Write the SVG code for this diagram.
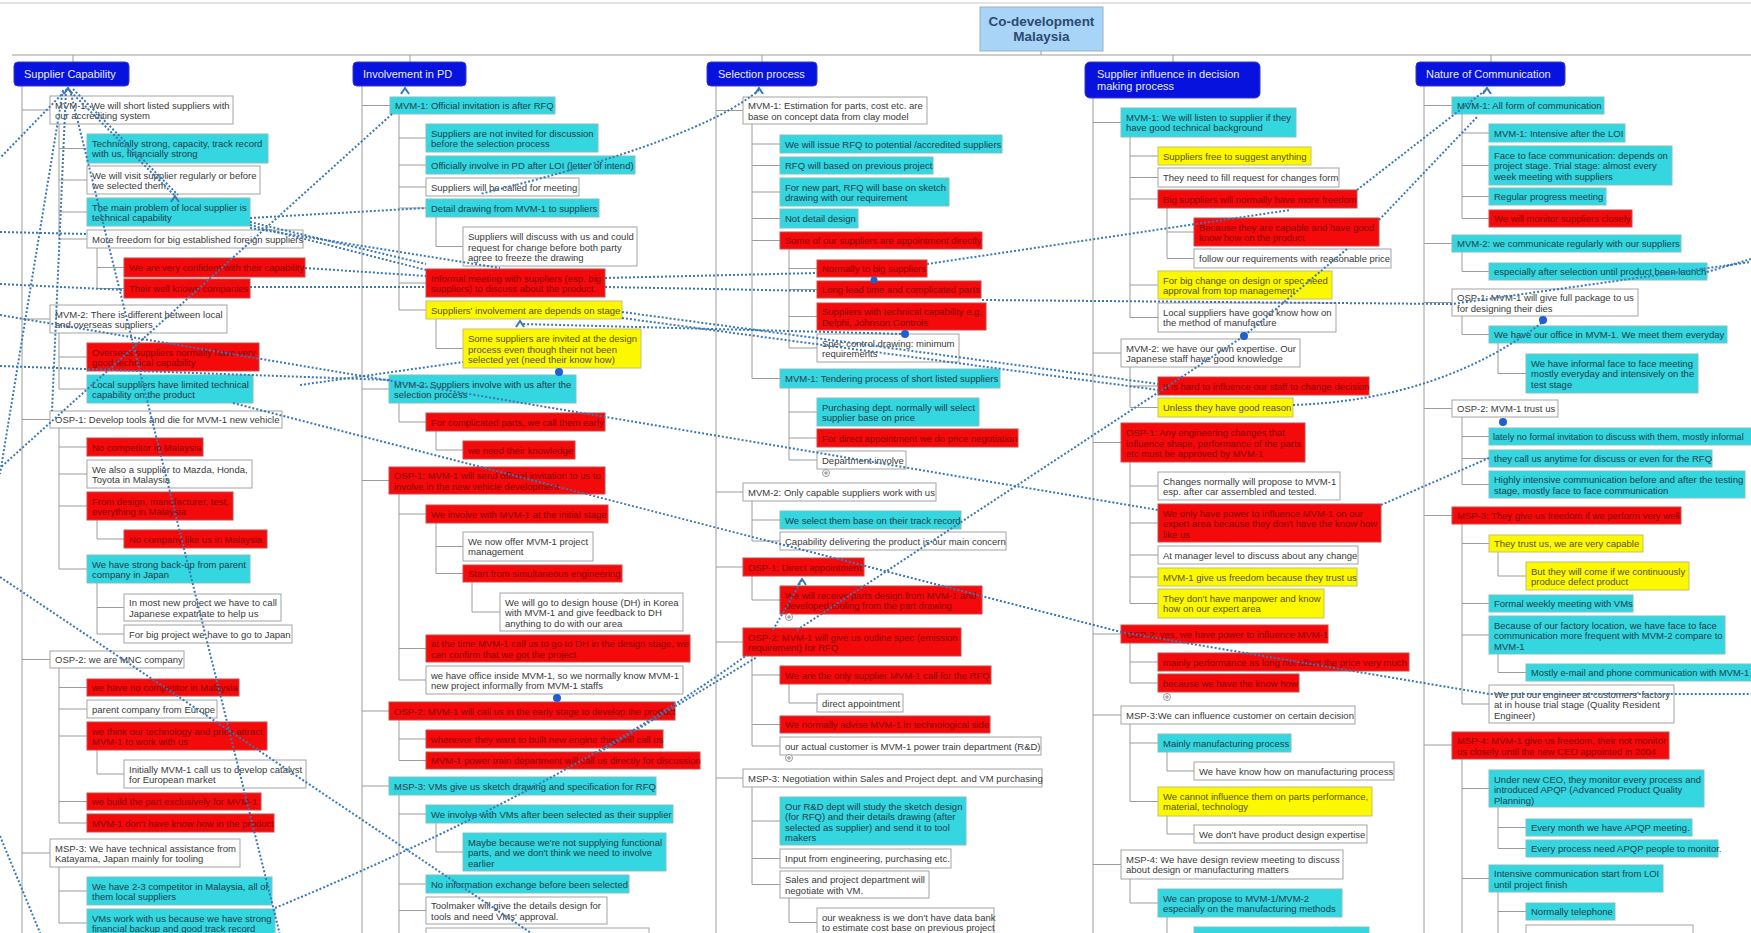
<svg xmlns="http://www.w3.org/2000/svg" width="1751" height="933" viewBox="0 0 1751 933">
<style>
text{font-family:"Liberation Sans",Arial,sans-serif;font-size:9.5px}
.w rect{fill:#fff;stroke:#a3a3a3}
.w text{fill:#3a3a3a}
.c rect{fill:#34d6df;stroke:#82bfc4}
.c text{fill:#1e3e4c}
.r rect{fill:#f40a0a;stroke:#c84a4a}
.r text{fill:#8a0505}
.y rect{fill:#fbf800;stroke:#c8c070}
.y text{fill:#5a5220}
.hd rect{fill:#0712df;stroke:#3a3ac0}
.hd text{fill:#e6ecff;font-size:11px}
.tree{stroke:#9c9c9c;stroke-width:1;fill:none}
.rel{stroke:#3b78b4;stroke-width:2;stroke-dasharray:2 2;fill:none}
.arw{stroke:#3b78b4;stroke-width:2;fill:none}
.dot{fill:#1f5fd0}
.exp circle{fill:#fff;stroke:#999}
.exp path{stroke:#888;stroke-width:1}
</style>
<rect width="1751" height="933" fill="#fff"/>
<path d="M0,3H1751" stroke="#c8c8c8" stroke-width="1"/>

<!-- tree branches -->
<g id="tree">
<path class="tree" d="M12,55H1751 M1041,51V55 M73,55V62 M410,55V62 M762,55V62 M1173,55V62 M1491,55V62"/>
<path class="tree" d="M22,86V933 M22,110H50 M22,319H50 M22,419.5H50 M22,659.5H50 M22,853H50 M59,124V239 M59,148.5H87 M59,180H87 M59,212H87 M59,239H87 M97,248V288.5 M97,267.5H124 M97,288.5H124 M59,333V389 M59,357H87 M59,389H87 M59,428V569 M59,447H87 M59,474H87 M59,506H87 M59,569H87 M97,520V539 M97,539H124 M97,583V634 M97,607.5H124 M97,634H124 M59,668V823 M59,687.5H87 M59,709H87 M59,736H87 M59,801.5H87 M59,823H87 M97,750V774 M97,774H124 M59,867V923 M59,891H87 M59,923H87"/>
<path class="tree" d="M362,86V933 M362,105.5H390 M362,389H389 M362,480.5H389 M362,711H389 M362,786H389 M399,114V310 M399,138H426 M399,165H426 M399,187H426 M399,208H426 M399,283H426 M399,310H426 M436,217V246.5 M436,246.5H463 M436,319V348.5 M436,348.5H463 M399,403V422 M399,422H426 M436,431V450 M436,450H463 M399,494V680 M399,514H426 M399,648.5H426 M399,680H426 M436,523V573.5 M436,546.5H463 M436,573.5H463 M472,582V612 M472,612H500 M399,720V760.5 M399,739H426 M399,760.5H426 M399,795V933 M399,814H426 M399,884H426 M399,910.5H426 M436,823V852 M436,852H463"/>
<path class="tree" d="M716,86V933 M716,110.5H743 M716,492H743 M716,567H743 M716,642H743 M716,778H743 M752,124V378.5 M752,144H780 M752,165.5H780 M752,192H780 M752,218.5H780 M752,240.5H780 M752,378.5H780 M789,249V348 M789,268.5H817 M789,289.5H817 M789,316.5H817 M789,348H817 M789,388V460 M789,412H817 M789,438H817 M789,460H817 M752,501V541 M752,520H780 M752,541H780 M752,576V600 M752,600H780 M752,656V746 M752,675H780 M752,724.5H780 M752,746H780 M789,684V703 M789,703H817 M752,787V884.5 M752,821H780 M752,858.5H780 M752,884.5H780 M789,898V922.5 M789,922.5H817"/>
<path class="tree" d="M1093,98V933 M1093,122.5H1121 M1093,353H1121 M1093,442.5H1121 M1093,634H1121 M1093,715H1121 M1093,864.5H1121 M1130,137V317.5 M1130,156H1158 M1130,177.5H1158 M1130,199H1158 M1130,285H1158 M1130,317.5H1158 M1167,208V258.5 M1167,232H1194 M1167,258.5H1194 M1130,367V407.5 M1130,386H1158 M1130,407.5H1158 M1130,462V603.5 M1130,486H1158 M1130,523H1158 M1130,555H1158 M1130,577H1158 M1130,603.5H1158 M1130,643V683 M1130,662H1158 M1130,683H1158 M1130,724V801.5 M1130,743H1158 M1130,801.5H1158 M1167,752V771 M1167,771H1194 M1167,816V834 M1167,834H1194 M1130,879V903 M1130,903H1158 M1167,917V933"/>
<path class="tree" d="M1424,86V933 M1424,105.5H1452 M1424,243.5H1452 M1424,302.5H1452 M1424,408.5H1452 M1424,515.5H1452 M1424,745H1452 M1462,114V218.5 M1462,133H1489 M1462,165.5H1489 M1462,196.5H1489 M1462,218.5H1489 M1462,252V271.5 M1462,271.5H1489 M1462,316V334.5 M1462,334.5H1489 M1498,343V373.5 M1498,373.5H1526 M1462,417V484.5 M1462,436.5H1489 M1462,458.5H1489 M1462,484.5H1489 M1462,524V704 M1462,543.5H1489 M1462,603.5H1489 M1462,635H1489 M1462,704H1489 M1498,552V576 M1498,576H1526 M1498,654V672.5 M1498,672.5H1526 M1462,759V933 M1462,788.5H1489 M1462,878.5H1489 M1498,807V848.5 M1498,827.5H1526 M1498,848.5H1526 M1498,892V933 M1498,911.5H1526"/>
</g>

<!-- root -->
<g id="root">
<rect x="980" y="7" width="123" height="44" fill="#a8d4f7" stroke="#9ab0c0"/>
<text x="1041.5" y="26" text-anchor="middle" style="font-size:13.5px;font-weight:bold;fill:#2c4a6e">Co-development</text>
<text x="1041.5" y="41" text-anchor="middle" style="font-size:13.5px;font-weight:bold;fill:#2c4a6e">Malaysia</text>
</g>

<!-- column headers -->
<g id="h1" class="hd"><rect x="14" y="62" width="115" height="24" rx="4"/><text x="24" y="78">Supplier Capability</text></g>
<g id="h2" class="hd"><rect x="353" y="62" width="113" height="24" rx="4"/><text x="363" y="78">Involvement in PD</text></g>
<g id="h3" class="hd"><rect x="707" y="62" width="110" height="24" rx="4"/><text x="718" y="78">Selection process</text></g>
<g id="h4" class="hd"><rect x="1085" y="62" width="175" height="36" rx="5"/><text x="1097" y="77.5">Supplier influence in decision</text><text x="1097" y="90">making process</text></g>
<g id="h5" class="hd"><rect x="1416" y="62" width="149" height="24" rx="4"/><text x="1426" y="78">Nature of Communication</text></g>

<!-- column 1 -->
<g id="n1-1" class="w"><rect x="50" y="96" width="183" height="28"/><text x="55" y="108.6">MVM-1: We will short listed suppliers with<tspan x="55" dy="10.7">our accrediting system</tspan></text></g>
<g id="n1-1a" class="c"><rect x="87" y="134" width="181" height="29"/><text x="92" y="146.6">Technically strong, capacity, track record<tspan x="92" dy="10.7">with us, financially strong</tspan></text></g>
<g id="n1-1b" class="w"><rect x="87" y="166" width="173" height="28"/><text x="92" y="178.6">We will visit supplier regularly or before<tspan x="92" dy="10.7">we selected them</tspan></text></g>
<g id="n1-1c" class="c"><rect x="87" y="198" width="163" height="28"/><text x="92" y="210.6">The main problem of local supplier is<tspan x="92" dy="10.7">technical capability</tspan></text></g>
<g id="n1-1d" class="w"><rect x="87" y="230" width="216" height="18"/><text x="92" y="242.5">More freedom for big established foreign suppliers</text></g>
<g id="n1-1d1" class="r"><rect x="124" y="258" width="181" height="19"/><text x="129" y="270.8">We are very confident with their capability</text></g>
<g id="n1-1d2" class="r"><rect x="124" y="279" width="126" height="19"/><text x="129" y="291.8">Their well known companies</text></g>
<g id="n1-2" class="w"><rect x="50" y="305" width="177" height="28"/><text x="55" y="317.6">MVM-2: There is different between local<tspan x="55" dy="10.7">and overseas suppliers</tspan></text></g>
<g id="n1-2a" class="r"><rect x="87" y="343" width="172" height="28"/><text x="92" y="355.6">Overseas suppliers normally have very<tspan x="92" dy="10.7">good technical capability</tspan></text></g>
<g id="n1-2b" class="c"><rect x="87" y="375" width="166" height="28"/><text x="92" y="387.6">Local suppliers have limited technical<tspan x="92" dy="10.7">capability on the product</tspan></text></g>
<g id="n1-3" class="w"><rect x="50" y="411" width="232" height="17"/><text x="55" y="423">OSP-1: Develop tools and die for MVM-1 new vehicle</text></g>
<g id="n1-3a" class="r"><rect x="87" y="438" width="116" height="18"/><text x="92" y="450.5">No competitor in Malaysia</text></g>
<g id="n1-3b" class="w"><rect x="87" y="460" width="165" height="28"/><text x="92" y="472.6">We also a supplier to Mazda, Honda,<tspan x="92" dy="10.7">Toyota in Malaysia</tspan></text></g>
<g id="n1-3c" class="r"><rect x="87" y="492" width="146" height="28"/><text x="92" y="504.6">From design, manufacturer, test,<tspan x="92" dy="10.7">everything in Malaysia</tspan></text></g>
<g id="n1-3c1" class="r"><rect x="124" y="530" width="143" height="18"/><text x="129" y="542.5">No company like us in Malaysia</text></g>
<g id="n1-3d" class="c"><rect x="87" y="555" width="163" height="28"/><text x="92" y="567.6">We have strong back-up from parent<tspan x="92" dy="10.7">company in Japan</tspan></text></g>
<g id="n1-3d1" class="w"><rect x="124" y="594" width="157" height="27"/><text x="129" y="606.3">In most new project we have to call<tspan x="129" dy="10.7">Japanese expatriate to help us</tspan></text></g>
<g id="n1-3d2" class="w"><rect x="124" y="625" width="168" height="18"/><text x="129" y="637.5">For big project we have to go to Japan</text></g>
<g id="n1-4" class="w"><rect x="50" y="651" width="134" height="17"/><text x="55" y="663">OSP-2: we are MNC company</text></g>
<g id="n1-4a" class="r"><rect x="87" y="679" width="152" height="17"/><text x="92" y="691">we have no competitor in Malaysia</text></g>
<g id="n1-4b" class="w"><rect x="87" y="700" width="130" height="18"/><text x="92" y="712.5">parent company from Europe</text></g>
<g id="n1-4c" class="r"><rect x="87" y="722" width="180" height="28"/><text x="92" y="734.6">we think our technology and price attract<tspan x="92" dy="10.7">MVM-1 to work with us</tspan></text></g>
<g id="n1-4c1" class="w"><rect x="124" y="760" width="182" height="28"/><text x="129" y="772.6">Initially MVM-1 call us to develop catalyst<tspan x="129" dy="10.7">for European market</tspan></text></g>
<g id="n1-4d" class="r"><rect x="87" y="793" width="174" height="17"/><text x="92" y="805">we build the part exclusively for MVM-1</text></g>
<g id="n1-4e" class="r"><rect x="87" y="814" width="187" height="18"/><text x="92" y="826.5">MVM-1 don't have know how in the product</text></g>
<g id="n1-5" class="w"><rect x="50" y="839" width="190" height="28"/><text x="55" y="851.6">MSP-3: We have technical assistance from<tspan x="55" dy="10.7">Katayama, Japan mainly for tooling</tspan></text></g>
<g id="n1-5a" class="c"><rect x="87" y="877" width="185" height="28"/><text x="92" y="889.6">We have 2-3 competitor in Malaysia, all of<tspan x="92" dy="10.7">them local suppliers</tspan></text></g>
<g id="n1-5b" class="c"><rect x="87" y="909" width="188" height="28"/><text x="92" y="921.6">VMs work with us because we have strong<tspan x="92" dy="10.7">financial backup and good track record</tspan></text></g>

<!-- column 2 -->
<g id="n2-1" class="c"><rect x="390" y="97" width="165" height="17"/><text x="395" y="109">MVM-1: Official invitation is after RFQ</text></g>
<g id="n2-1a" class="c"><rect x="426" y="124" width="172" height="28"/><text x="431" y="136.6">Suppliers are not invited for discussion<tspan x="431" dy="10.7">before the selection process</tspan></text></g>
<g id="n2-1b" class="c"><rect x="426" y="156" width="209" height="18"/><text x="431" y="168.5">Officially involve in PD after LOI (letter of intend)</text></g>
<g id="n2-1c" class="w"><rect x="426" y="178" width="153" height="18"/><text x="431" y="190.5">Suppliers will be called for meeting</text></g>
<g id="n2-1d" class="c"><rect x="426" y="199" width="173" height="18"/><text x="431" y="211.5">Detail drawing from MVM-1 to suppliers</text></g>
<g id="n2-1d1" class="w"><rect x="463" y="227" width="174" height="39"/><text x="468" y="240">Suppliers will discuss with us and could<tspan x="468" dy="10.5">request for change before both party</tspan><tspan x="468" dy="10.5">agree to freeze the drawing</tspan></text></g>
<g id="n2-1e" class="r"><rect x="426" y="269" width="179" height="28"/><text x="431" y="281.6">Informal meeting with suppliers (esp. big<tspan x="431" dy="10.7">suppliers) to discuss about the product.</tspan></text></g>
<g id="n2-1f" class="y"><rect x="426" y="301" width="196" height="18"/><text x="431" y="313.5">Suppliers' involvement are depends on stage</text></g>
<g id="n2-1f1" class="y"><rect x="463" y="329" width="178" height="39"/><text x="468" y="342">Some suppliers are invited at the design<tspan x="468" dy="10.5">process even though their not been</tspan><tspan x="468" dy="10.5">selected yet (need their know how)</tspan></text></g>
<g id="n2-2" class="c"><rect x="389" y="375" width="187" height="28"/><text x="394" y="387.6">MVM-2: Suppliers involve with us after the<tspan x="394" dy="10.7">selection process</tspan></text></g>
<g id="n2-2a" class="r"><rect x="426" y="413" width="179" height="18"/><text x="431" y="425.5">For complicated parts, we call them early</text></g>
<g id="n2-2a1" class="r"><rect x="463" y="441" width="112" height="18"/><text x="468" y="453.5">we need their knowledge</text></g>
<g id="n2-3" class="r"><rect x="389" y="467" width="216" height="27"/><text x="394" y="479.3">OSP-1: MVM-1 will send official invitation to us to<tspan x="394" dy="10.7">involve in the new vehicle development</tspan></text></g>
<g id="n2-3a" class="r"><rect x="426" y="505" width="182" height="18"/><text x="431" y="517.5">We involve with MVM-1 at the initial stage</text></g>
<g id="n2-3a1" class="w"><rect x="463" y="532" width="130" height="29"/><text x="468" y="544.6">We now offer MVM-1 project<tspan x="468" dy="10.7">management</tspan></text></g>
<g id="n2-3a2" class="r"><rect x="463" y="565" width="159" height="17"/><text x="468" y="577">Start from simultaneous engineering</text></g>
<g id="n2-3a2a" class="w"><rect x="500" y="593" width="183" height="38"/><text x="505" y="605.8">We will go to design house (DH) in Korea<tspan x="505" dy="10.5">with MVM-1 and give feedback to DH</tspan><tspan x="505" dy="10.5">anything to do with our area</tspan></text></g>
<g id="n2-3b" class="r"><rect x="426" y="635" width="264" height="27"/><text x="431" y="647.3">at the time MVM-1 call us to go to DH in the design stage, we<tspan x="431" dy="10.7">can confirm that we got the project</tspan></text></g>
<g id="n2-3c" class="w"><rect x="426" y="666" width="257" height="28"/><text x="431" y="678.6">we have office inside MVM-1, so we normally know MVM-1<tspan x="431" dy="10.7">new project informally from MVM-1 staffs</tspan></text></g>
<g id="n2-4" class="r"><rect x="389" y="702" width="286" height="18"/><text x="394" y="714.5">OSP-2: MVM-1 will call us in the early stage to develop the product</text></g>
<g id="n2-4a" class="r"><rect x="426" y="730" width="237" height="18"/><text x="431" y="742.5">whenever they want to built new engine they will call us</text></g>
<g id="n2-4b" class="r"><rect x="426" y="752" width="274" height="17"/><text x="431" y="764">MVM-1 power train department will call us directly for discussion</text></g>
<g id="n2-5" class="c"><rect x="389" y="777" width="267" height="18"/><text x="394" y="789.5">MSP-3: VMs give us sketch drawing and specification for RFQ</text></g>
<g id="n2-5a" class="c"><rect x="426" y="805" width="247" height="18"/><text x="431" y="817.5">We involve with VMs after been selected as their supplier</text></g>
<g id="n2-5a1" class="c"><rect x="463" y="833" width="203" height="38"/><text x="468" y="845.8">Maybe because we're not supplying functional<tspan x="468" dy="10.5">parts, and we don't think we need to involve</tspan><tspan x="468" dy="10.5">earlier</tspan></text></g>
<g id="n2-5b" class="c"><rect x="426" y="875" width="203" height="18"/><text x="431" y="887.5">No information exchange before been selected</text></g>
<g id="n2-5c" class="w"><rect x="426" y="897" width="181" height="27"/><text x="431" y="909.3">Toolmaker will give the details design for<tspan x="431" dy="10.7">tools and need VMs' approval.</tspan></text></g>
<g id="n2-5d" class="w"><rect x="426" y="928" width="223" height="20"/></g>

<!-- column 3 -->
<g id="n3-1" class="w"><rect x="743" y="97" width="184" height="27"/><text x="748" y="109.3">MVM-1: Estimation for parts, cost etc. are<tspan x="748" dy="10.7">base on concept data from clay model</tspan></text></g>
<g id="n3-1a" class="c"><rect x="780" y="135" width="222" height="18"/><text x="785" y="147.5">We will issue RFQ to potential /accredited suppliers</text></g>
<g id="n3-1b" class="c"><rect x="780" y="157" width="153" height="17"/><text x="785" y="169">RFQ will based on previous project</text></g>
<g id="n3-1c" class="c"><rect x="780" y="178" width="169" height="28"/><text x="785" y="190.6">For new part, RFQ will base on sketch<tspan x="785" dy="10.7">drawing with our requirement</tspan></text></g>
<g id="n3-1d" class="c"><rect x="780" y="209" width="78" height="19"/><text x="785" y="221.8">Not detail design</text></g>
<g id="n3-1e" class="r"><rect x="780" y="232" width="202" height="17"/><text x="785" y="244">Some of our suppliers are appointment directly</text></g>
<g id="n3-1e1" class="r"><rect x="817" y="260" width="110" height="17"/><text x="822" y="272">Normally to big suppliers</text></g>
<g id="n3-1e2" class="r"><rect x="817" y="281" width="164" height="17"/><text x="822" y="293">Long lead time and complicated parts</text></g>
<g id="n3-1e3" class="r"><rect x="817" y="303" width="169" height="27"/><text x="822" y="315.3">Suppliers with technical capability e.g.<tspan x="822" dy="10.7">Delphi, Johnson Controls</tspan></text></g>
<g id="n3-1e4" class="w"><rect x="817" y="334" width="142" height="28"/><text x="822" y="346.6">Spec control drawing: minimum<tspan x="822" dy="10.7">requirements</tspan></text></g>
<g id="n3-1f" class="c"><rect x="780" y="369" width="220" height="19"/><text x="785" y="381.8">MVM-1: Tendering process of short listed suppliers</text></g>
<g id="n3-1f1" class="c"><rect x="817" y="398" width="162" height="28"/><text x="822" y="410.6">Purchasing dept. normally will select<tspan x="822" dy="10.7">supplier base on price</tspan></text></g>
<g id="n3-1f2" class="r"><rect x="817" y="429" width="201" height="18"/><text x="822" y="441.5">For direct appointment we do price negotiation</text></g>
<g id="n3-1f3" class="w"><rect x="817" y="451" width="89" height="18"/><text x="822" y="463.5">Department involve</text></g>
<g id="n3-2" class="w"><rect x="743" y="483" width="193" height="18"/><text x="748" y="495.5">MVM-2: Only capable suppliers work with us</text></g>
<g id="n3-2a" class="c"><rect x="780" y="511" width="181" height="18"/><text x="785" y="523.5">We select them base on their track record</text></g>
<g id="n3-2b" class="w"><rect x="780" y="532" width="226" height="18"/><text x="785" y="544.5">Capability delivering the product is our main concern</text></g>
<g id="n3-3" class="r"><rect x="743" y="558" width="121" height="18"/><text x="748" y="570.5">OSP-1: Direct appointment</text></g>
<g id="n3-3a" class="r"><rect x="780" y="586" width="202" height="28"/><text x="785" y="598.6">We will receive parts design  from MVM-1 and<tspan x="785" dy="10.7">developed tooling from the part drawing</tspan></text></g>
<g id="n3-4" class="r"><rect x="743" y="628" width="218" height="28"/><text x="748" y="640.6">OSP-2: MVM-1 will give us outline spec (emission<tspan x="748" dy="10.7">requirement) for RFQ</tspan></text></g>
<g id="n3-4a" class="r"><rect x="780" y="666" width="211" height="18"/><text x="785" y="678.5">We are the only supplier MVM-1 call for the RFQ</text></g>
<g id="n3-4a1" class="w"><rect x="817" y="694" width="86" height="18"/><text x="822" y="706.5">direct appointment</text></g>
<g id="n3-4b" class="r"><rect x="780" y="716" width="210" height="17"/><text x="785" y="728">We normally advise MVM-1 in technological side</text></g>
<g id="n3-4c" class="w"><rect x="780" y="737" width="261" height="18"/><text x="785" y="749.5">our actual customer is MVM-1 power train department (R&amp;D)</text></g>
<g id="n3-5" class="w"><rect x="743" y="769" width="299" height="18"/><text x="748" y="781.5">MSP-3: Negotiation within Sales and Project dept. and VM purchasing</text></g>
<g id="n3-5a" class="c"><rect x="780" y="797" width="186" height="48"/><text x="785" y="809.5">Our R&amp;D dept will study the sketch design<tspan x="785" dy="10.5">(for RFQ) and their details drawing (after</tspan><tspan x="785" dy="10.5">selected as supplier) and send it to tool</tspan><tspan x="785" dy="10.5">makers</tspan></text></g>
<g id="n3-5b" class="w"><rect x="780" y="849" width="171" height="19"/><text x="785" y="861.8">Input from engineering, purchasing etc.</text></g>
<g id="n3-5c" class="w"><rect x="780" y="871" width="149" height="27"/><text x="785" y="883.3">Sales and project department will<tspan x="785" dy="10.7">negotiate with VM.</tspan></text></g>
<g id="n3-5c1" class="w"><rect x="817" y="908" width="177" height="29"/><text x="822" y="920.6">our weakness is we don't have data bank<tspan x="822" dy="10.7">to estimate cost base on previous project</tspan></text></g>

<!-- column 4 -->
<g id="n4-1" class="c"><rect x="1121" y="108" width="175" height="29"/><text x="1126" y="120.6">MVM-1: We will listen to supplier if they<tspan x="1126" dy="10.7">have good technical background</tspan></text></g>
<g id="n4-1a" class="y"><rect x="1158" y="147" width="153" height="18"/><text x="1163" y="159.5">Suppliers free to suggest anything</text></g>
<g id="n4-1b" class="w"><rect x="1158" y="168" width="181" height="19"/><text x="1163" y="180.8">They need to fill request for changes form</text></g>
<g id="n4-1c" class="r"><rect x="1158" y="190" width="199" height="18"/><text x="1163" y="202.5">Big suppliers will normally have more freedom</text></g>
<g id="n4-1c1" class="r"><rect x="1194" y="218" width="185" height="28"/><text x="1199" y="230.6">Because they are capable and have good<tspan x="1199" dy="10.7">know how on the product</tspan></text></g>
<g id="n4-1c2" class="w"><rect x="1194" y="249" width="197" height="19"/><text x="1199" y="261.8">follow our requirements with reasonable price</text></g>
<g id="n4-1d" class="y"><rect x="1158" y="271" width="174" height="28"/><text x="1163" y="283.6">For big change on design or spec need<tspan x="1163" dy="10.7">approval from top management</tspan></text></g>
<g id="n4-1e" class="w"><rect x="1158" y="303" width="178" height="29"/><text x="1163" y="315.6">Local suppliers have good know how on<tspan x="1163" dy="10.7">the method of manufacture</tspan></text></g>
<g id="n4-2" class="w"><rect x="1121" y="339" width="179" height="28"/><text x="1126" y="351.6">MVM-2: we have our own expertise. Our<tspan x="1126" dy="10.7">Japanese staff have good knowledge</tspan></text></g>
<g id="n4-2a" class="r"><rect x="1158" y="377" width="211" height="18"/><text x="1163" y="389.5">It is hard to influence our staff to change decision</text></g>
<g id="n4-2b" class="y"><rect x="1158" y="398" width="135" height="19"/><text x="1163" y="410.8">Unless they have good reason</text></g>
<g id="n4-3" class="r"><rect x="1121" y="423" width="184" height="39"/><text x="1126" y="436">OSP-1: Any engineering changes that<tspan x="1126" dy="10.5">influence shape, performance of the parts</tspan><tspan x="1126" dy="10.5">etc must be approved by MVM-1</tspan></text></g>
<g id="n4-3a" class="w"><rect x="1158" y="472" width="182" height="28"/><text x="1163" y="484.6">Changes normally will propose to MVM-1<tspan x="1163" dy="10.7">esp. after car assembled and tested.</tspan></text></g>
<g id="n4-3b" class="r"><rect x="1158" y="504" width="223" height="38"/><text x="1163" y="516.8">We only have power to influence MVM-1 on our<tspan x="1163" dy="10.5">expert area because they don't have the know how</tspan><tspan x="1163" dy="10.5">like us</tspan></text></g>
<g id="n4-3c" class="w"><rect x="1158" y="546" width="200" height="18"/><text x="1163" y="558.5">At manager level to discuss about any change</text></g>
<g id="n4-3d" class="y"><rect x="1158" y="568" width="199" height="18"/><text x="1163" y="580.5">MVM-1 give us freedom because they trust us</text></g>
<g id="n4-3e" class="y"><rect x="1158" y="589" width="166" height="29"/><text x="1163" y="601.6">They don't have manpower and know<tspan x="1163" dy="10.7">how on our expert area</tspan></text></g>
<g id="n4-4" class="r"><rect x="1121" y="625" width="207" height="18"/><text x="1126" y="637.5">OSP-2: yes, we have power to influence MVM-1</text></g>
<g id="n4-4a" class="r"><rect x="1158" y="653" width="251" height="18"/><text x="1163" y="665.5">mainly performance as long not affect the price very much</text></g>
<g id="n4-4b" class="r"><rect x="1158" y="674" width="141" height="18"/><text x="1163" y="686.5">because we have the know how</text></g>
<g id="n4-5" class="w"><rect x="1121" y="706" width="234" height="18"/><text x="1126" y="718.5">MSP-3:We can influence customer on certain decision</text></g>
<g id="n4-5a" class="c"><rect x="1158" y="734" width="133" height="18"/><text x="1163" y="746.5">Mainly manufacturing process</text></g>
<g id="n4-5a1" class="w"><rect x="1194" y="762" width="200" height="18"/><text x="1199" y="774.5">We have know how on manufacturing process</text></g>
<g id="n4-5b" class="y"><rect x="1158" y="787" width="214" height="29"/><text x="1163" y="799.6">We cannot influence them on parts performance,<tspan x="1163" dy="10.7">material, technology</tspan></text></g>
<g id="n4-5b1" class="w"><rect x="1194" y="825" width="173" height="18"/><text x="1199" y="837.5">We don't have product design expertise</text></g>
<g id="n4-6" class="w"><rect x="1121" y="850" width="222" height="29"/><text x="1126" y="862.6">MSP-4: We have design review meeting to discuss<tspan x="1126" dy="10.7">about design or manufacturing matters</tspan></text></g>
<g id="n4-6a" class="c"><rect x="1158" y="889" width="184" height="28"/><text x="1163" y="901.6">We can propose to MVM-1/MVM-2<tspan x="1163" dy="10.7">especially on the manufacturing methods</tspan></text></g>
<g id="n4-6a1" class="c"><rect x="1194" y="927" width="175" height="20"/></g>

<!-- column 5 -->
<g id="n5-1" class="c"><rect x="1452" y="97" width="152" height="17"/><text x="1457" y="109">MVM-1: All form of communication</text></g>
<g id="n5-1a" class="c"><rect x="1489" y="124" width="136" height="18"/><text x="1494" y="136.5">MVM-1: Intensive after the LOI</text></g>
<g id="n5-1b" class="c"><rect x="1489" y="146" width="183" height="39"/><text x="1494" y="158.8">Face to face communication: depends on<tspan x="1494" dy="10.5">project stage. Trial stage: almost every</tspan><tspan x="1494" dy="10.5">week meeting with suppliers</tspan></text></g>
<g id="n5-1c" class="c"><rect x="1489" y="188" width="117" height="17"/><text x="1494" y="200">Regular progress meeting</text></g>
<g id="n5-1d" class="r"><rect x="1489" y="210" width="143" height="17"/><text x="1494" y="222">We will monitor suppliers closely</text></g>
<g id="n5-2" class="c"><rect x="1452" y="235" width="229" height="17"/><text x="1457" y="247">MVM-2: we communicate regularly with our suppliers</text></g>
<g id="n5-2a" class="c"><rect x="1489" y="263" width="218" height="17"/><text x="1494" y="275">especially after selection until product been launch</text></g>
<g id="n5-3" class="w"><rect x="1452" y="289" width="186" height="27"/><text x="1457" y="301.3">OSP-1: MVM-1 will give full package to us<tspan x="1457" dy="10.7">for designing their dies</tspan></text></g>
<g id="n5-3a" class="c"><rect x="1489" y="326" width="238" height="17"/><text x="1494" y="338">We have our office in MVM-1. We meet them everyday</text></g>
<g id="n5-3a1" class="c"><rect x="1526" y="354" width="172" height="39"/><text x="1531" y="366.8">We have informal face to face meeting<tspan x="1531" dy="10.5">mostly everyday and intensively on the</tspan><tspan x="1531" dy="10.5">test stage</tspan></text></g>
<g id="n5-4" class="w"><rect x="1452" y="400" width="106" height="17"/><text x="1457" y="412">OSP-2: MVM-1 trust us</text></g>
<g id="n5-4a" class="c"><rect x="1489" y="428" width="270" height="17"/><text x="1493" y="440" style="font-size:9.1px">lately no formal invitation to discuss with them, mostly informal</text></g>
<g id="n5-4b" class="c"><rect x="1489" y="450" width="223" height="17"/><text x="1494" y="462">they call us anytime for discuss or even for the RFQ</text></g>
<g id="n5-4c" class="c"><rect x="1489" y="471" width="256" height="27"/><text x="1494" y="483.3">Highly intensive communication before and after the testing<tspan x="1494" dy="10.7">stage, mostly face to face communication</tspan></text></g>
<g id="n5-5" class="r"><rect x="1452" y="507" width="229" height="17"/><text x="1457" y="519">MSP-3: They give us freedom if we perform very well</text></g>
<g id="n5-5a" class="y"><rect x="1489" y="535" width="154" height="17"/><text x="1494" y="547">They trust us, we are very capable</text></g>
<g id="n5-5a1" class="y"><rect x="1526" y="562" width="163" height="28"/><text x="1531" y="574.6">But they will come if we continuously<tspan x="1531" dy="10.7">produce defect product</tspan></text></g>
<g id="n5-5b" class="c"><rect x="1489" y="595" width="144" height="17"/><text x="1494" y="607">Formal weekly meeting with VMs</text></g>
<g id="n5-5c" class="c"><rect x="1489" y="616" width="236" height="38"/><text x="1494" y="628.8">Because of our factory location, we have face to face<tspan x="1494" dy="10.5">communication more frequent with MVM-2 compare to</tspan><tspan x="1494" dy="10.5">MVM-1</tspan></text></g>
<g id="n5-5c1" class="c"><rect x="1526" y="664" width="230" height="17"/><text x="1531" y="676" style="font-size:9.3px">Mostly e-mail and phone communication with MVM-1</text></g>
<g id="n5-5d" class="w"><rect x="1489" y="685" width="185" height="38"/><text x="1494" y="697.8">We put our engineer at customers' factory<tspan x="1494" dy="10.5">at in house trial stage (Quality Resident</tspan><tspan x="1494" dy="10.5">Engineer)</tspan></text></g>
<g id="n5-6" class="r"><rect x="1452" y="732" width="217" height="27"/><text x="1457" y="744.3">MSP-4: MVM-1 give us freedom, their not monitor<tspan x="1457" dy="10.7">us closely until the new CEO appointed in 2004</tspan></text></g>
<g id="n5-6a" class="c"><rect x="1489" y="770" width="215" height="37"/><text x="1494" y="782.5">Under new CEO, they monitor every process and<tspan x="1494" dy="10.5">introduced APQP (Advanced Product Quality</tspan><tspan x="1494" dy="10.5">Planning)</tspan></text></g>
<g id="n5-6a1" class="c"><rect x="1526" y="819" width="166" height="17"/><text x="1531" y="831">Every month we have APQP meeting.</text></g>
<g id="n5-6a2" class="c"><rect x="1526" y="840" width="192" height="17"/><text x="1531" y="852">Every process need APQP people to monitor.</text></g>
<g id="n5-6b" class="c"><rect x="1489" y="865" width="174" height="27"/><text x="1494" y="877.3">Intensive communication start from LOI<tspan x="1494" dy="10.7">until project finish</tspan></text></g>
<g id="n5-6b1" class="c"><rect x="1526" y="903" width="89" height="17"/><text x="1531" y="915">Normally telephone</text></g>
<g id="n5-6b2" class="w"><rect x="1526" y="925" width="167" height="20"/></g>

<!-- collapsed-branch markers -->
<g id="expanders" class="exp">
<circle cx="826" cy="473" r="3.5"/><path d="M824,473H828M826,471V475"/>
<circle cx="789" cy="617" r="3.5"/><path d="M787,617H791M789,615V619"/>
<circle cx="789" cy="758" r="3.5"/><path d="M787,758H791M789,756V760"/>
<circle cx="1167" cy="697" r="3.5"/><path d="M1165,697H1169M1167,695V699"/>
</g>

<!-- relationship connectors -->
<g id="connectors">
<path class="rel" d="M67,89L0,158"/>
<path class="rel" d="M63,90L0,474"/>
<path class="rel" d="M70,90L280,935"/>
<path class="rel" d="M66,90L52,411"/>
<path class="rel" d="M68,89L175,196"/>
<path class="rel" d="M73,89L178,195"/>
<path class="rel" d="M392,114L0,468"/>
<path class="rel" d="M0,232L87,234"/>
<path class="rel" d="M250,218L426,208"/>
<path class="rel" d="M250,222L426,264"/>
<path class="rel" d="M250,225L426,270"/>
<path class="rel" d="M250,228L500,268"/>
<path class="rel" d="M0,284L124,290"/>
<path class="rel" d="M250,287L426,287"/>
<path class="rel" d="M305,268L426,276"/>
<path class="rel" d="M605,287L817,291"/>
<path class="rel" d="M605,278L817,273"/>
<path class="rel" d="M0,315L1158,510"/>
<path class="rel" d="M233,403L1121,632L1489,694L1751,694"/>
<path class="rel" d="M0,577L540,939"/>
<path class="rel" d="M0,836L43,940"/>
<path class="rel" d="M275,908Q560,790 747,655"/>
<path class="rel" d="M600,752L757,657"/>
<path class="rel" d="M759,90Q700,140 480,194"/>
<path class="rel" d="M927,264L1290,210"/>
<path class="rel" d="M1357,190L1487,89"/>
<path class="rel" d="M1379,220L1478,116"/>
<path class="rel" d="M982,300L1452,304L1751,262"/>
<path class="rel" d="M1293,405Q1440,400 1543,322"/>
<path class="rel" d="M1347,249L1244,336L797,630"/>
<path class="rel" d="M905,334L522,324"/>
<path class="rel" d="M622,312L1158,384"/>
<path class="rel" d="M622,318L1158,390"/>
<path class="rel" d="M1381,505L1489,458"/>
<path class="rel" d="M1707,272L1751,259"/>
<path class="rel" d="M773,630L802,580"/>
<path class="rel" d="M0,366L390,380"/>
<path class="rel" d="M300,385L463,362"/>
<path class="arw" d="M64,94L68,88L72,94 M401,94L405,88L409,94 M755,94L759,88L763,94 M1483,94L1487,88L1491,94 M171,202L175,196L179,202 M516,327L520,321L524,327 M798,585L802,579L806,585"/>
<circle class="dot" cx="559" cy="372" r="4"/>
<circle class="dot" cx="557" cy="698" r="4"/>
<circle class="dot" cx="905" cy="334" r="4"/>
<circle class="dot" cx="874" cy="280" r="3.5"/>
<circle class="dot" cx="1244" cy="336" r="4"/>
<circle class="dot" cx="1543" cy="320" r="4"/>
<circle class="dot" cx="1503" cy="422" r="4"/>
</g>
</svg>
